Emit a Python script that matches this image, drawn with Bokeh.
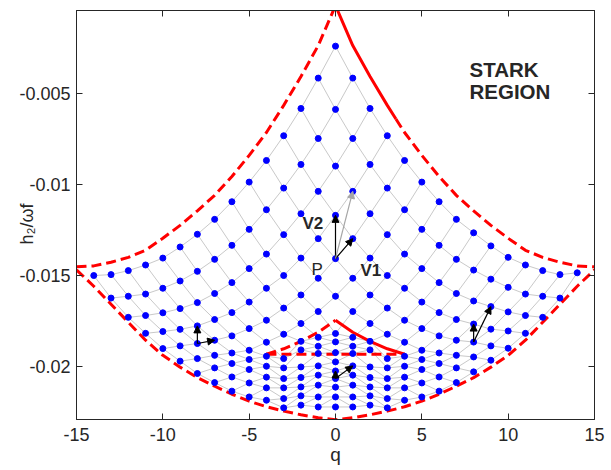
from bokeh.plotting import figure
from bokeh.models import FixedTicker, LinearAxis, Label, Arrow, NormalHead
from bokeh.embed import file_html
from bokeh.resources import INLINE

# ---------------- data ----------------
q_cols = list(range(-14, 15))

h2_m14 = [-0.01500]
h2_m13 = [-0.01495, -0.01624]
h2_m12 = [-0.01473, -0.01614, -0.01730]
h2_m11 = [-0.01442, -0.01602, -0.01720, -0.01818]
h2_m10 = [-0.01404, -0.01570, -0.01705, -0.01808, -0.01902]
h2_m9 = [-0.01343, -0.01530, -0.01682, -0.01796, -0.01887, -0.01971]
h2_m8 = [-0.01273, -0.01477, -0.01649, -0.01777, -0.01874, -0.01957, -0.02039]
h2_m7 = [-0.01191, -0.01411, -0.01599, -0.01742, -0.01856, -0.01939, -0.02008, -0.02089]
h2_m6 = [-0.01094, -0.01334, -0.01539, -0.01704, -0.01832, -0.01926, -0.01984, -0.02058, -0.02136]
h2_m5 = [-0.00986, -0.01246, -0.01462, -0.01646, -0.01792, -0.01911, -0.01962, -0.02017, -0.02091, -0.02168]
h2_m4 = [-0.00867, -0.01138, -0.01382, -0.01570, -0.01746, -0.01867, -0.01944, -0.01999, -0.02059, -0.02118, -0.02186]
h2_m3 = [-0.00731, -0.01019, -0.01275, -0.01500, -0.01679, -0.01823, -0.01957, -0.02008, -0.02067, -0.02118, -0.02177, -0.02228]
h2_m2 = [-0.00581, -0.00889, -0.01160, -0.01404, -0.01607, -0.01764, -0.01862, -0.01909, -0.02003, -0.02061, -0.02113, -0.02162, -0.02213]
h2_m1 = [-0.00414, -0.00746, -0.01037, -0.01297, -0.01515, -0.01698, -0.01840, -0.01889, -0.01929, -0.01997, -0.02048, -0.02103, -0.02168, -0.02223]
h2_0 = [-0.00238, -0.00586, -0.00898, -0.01169, -0.01407, -0.01614, -0.01819, -0.01865, -0.01924, -0.01975, -0.02025, -0.02067, -0.02114, -0.02168, -0.02223]
h2_p1 = [-0.00414, -0.00746, -0.01037, -0.01297, -0.01515, -0.01698, -0.01840, -0.01889, -0.01929, -0.01997, -0.02048, -0.02103, -0.02168, -0.02223]
h2_p2 = [-0.00581, -0.00889, -0.01160, -0.01404, -0.01607, -0.01764, -0.01862, -0.01909, -0.02003, -0.02061, -0.02113, -0.02162, -0.02213]
h2_p3 = [-0.00731, -0.01019, -0.01275, -0.01500, -0.01679, -0.01823, -0.01957, -0.02008, -0.02067, -0.02118, -0.02177, -0.02228]
h2_p4 = [-0.00867, -0.01138, -0.01382, -0.01570, -0.01746, -0.01867, -0.01944, -0.01999, -0.02059, -0.02118, -0.02186]
h2_p5 = [-0.00986, -0.01246, -0.01462, -0.01646, -0.01792, -0.01911, -0.01962, -0.02017, -0.02091, -0.02168]
h2_p6 = [-0.01094, -0.01334, -0.01539, -0.01704, -0.01832, -0.01926, -0.01984, -0.02058, -0.02136]
h2_p7 = [-0.01191, -0.01411, -0.01599, -0.01742, -0.01856, -0.01939, -0.02008, -0.02089]
h2_p8 = [-0.01265, -0.01470, -0.01640, -0.01767, -0.01866, -0.01948, -0.02030]
h2_p9 = [-0.01337, -0.01520, -0.01671, -0.01795, -0.01887, -0.01966]
h2_p10 = [-0.01400, -0.01565, -0.01700, -0.01805, -0.01900]
h2_p11 = [-0.01442, -0.01602, -0.01720, -0.01818]
h2_p12 = [-0.01473, -0.01614, -0.01730]
h2_p13 = [-0.01495, -0.01624]
h2_p14 = [-0.01485]

h2_cols = [h2_m14, h2_m13, h2_m12, h2_m11, h2_m10, h2_m9, h2_m8, h2_m7, h2_m6,
           h2_m5, h2_m4, h2_m3, h2_m2, h2_m1, h2_0, h2_p1, h2_p2, h2_p3, h2_p4,
           h2_p5, h2_p6, h2_p7, h2_p8, h2_p9, h2_p10, h2_p11, h2_p12, h2_p13, h2_p14]

# outer boundary (upper branch, left part dashed)
up_left_q = [-15, -14, -13, -12, -11, -10, -9, -8, -7, -6, -5, -4, -3, -2, -1, -0.5, 0]
up_left_h = [-0.01452, -0.01447, -0.01427, -0.01400, -0.01361, -0.01295, -0.01224, -0.01144,
             -0.01059, -0.00955, -0.00839, -0.00713, -0.00564, -0.00405, -0.00235, -0.00125, -0.00015]
# upper branch, right part: solid near the top, then dashed
up_right_solid_q = [0, 0.5, 1, 2, 3, 3.5]
up_right_solid_h = [-0.00015, -0.00125, -0.00235, -0.00405, -0.00564, -0.00639]
up_right_dash_q = [3.5, 4, 5, 6, 7, 8, 9, 10, 11, 12, 13, 14, 15]
up_right_dash_h = [-0.00639, -0.00713, -0.00839, -0.00955, -0.01059, -0.01144, -0.01224, -0.01295,
                   -0.01361, -0.01400, -0.01427, -0.01447, -0.01452]
# lower branch of the outer boundary
low_q = [-15, -14, -13, -12, -11, -10, -9, -8, -7, -6, -5, -4, -3, -2, -1, 0,
         1, 2, 3, 4, 5, 6, 7, 8, 9, 10, 11, 12, 13, 14, 15]
low_h = [-0.01469, -0.01559, -0.01658, -0.01757, -0.01856, -0.01939, -0.02004, -0.02062,
         -0.02109, -0.02153, -0.02191, -0.02222, -0.02246, -0.02266, -0.02282, -0.02293,
         -0.02282, -0.02266, -0.02246, -0.02222, -0.02191, -0.02153, -0.02109, -0.02062,
         -0.02004, -0.01939, -0.01856, -0.01757, -0.01658, -0.01559, -0.01469]
# inner critical curves
in_left_q = [-4, -3, -2, -1, 0]
in_left_h = [-0.01933, -0.01903, -0.01862, -0.01812, -0.01746]
in_right_q = [0, 1, 2, 3, 4]
in_right_h = [-0.01746, -0.01812, -0.01862, -0.01903, -0.01933]
in_flat_q = [-4, 4]
in_flat_h = [-0.01933, -0.01933]

# arrows: (q_from, index_from, q_to, index_to, colour)
arrows = [(0, 4, 0, 3, "black"), (0, 4, 1, 3, "black"), (0, 4, 1, 2, "#a6a6a6"),
          (-8, 4, -8, 3, "black"), (-8, 4, -7, 4, "black"),
          (0, 11, 0, 10, "black"), (0, 11, 1, 9, "black"),
          (8, 4, 8, 3, "black"), (8, 4, 9, 2, "black")]

xticks = [-15, -10, -5, 0, 5, 10, 15]
yticks = [-0.02, -0.015, -0.01, -0.005]
ytick_labels = {-0.02: "-0.02", -0.015: "-0.015", -0.01: "-0.01", -0.005: "-0.005"}

# ---------------- figure ----------------
Y0, Y1 = -0.02292, -0.00042
W, H = 611, 470
FL, FR, FT, FB = 76, 17, 10, 51
p = figure(width=W, height=H, x_range=(-15, 15), y_range=(Y0, Y1),
           output_backend="svg", toolbar_location=None,
           min_border_left=FL, min_border_right=FR, min_border_top=FT, min_border_bottom=FB,
           background_fill_color="white", border_fill_color="white")
p.grid.visible = False
p.outline_line_color = "#262626"
dark = "#262626"
font = "Liberation Sans"

for ax in (p.xaxis[0], p.yaxis[0]):
    ax.major_tick_in = 6
    ax.major_tick_out = 0
    ax.minor_tick_line_color = None
    ax.axis_line_color = dark
    ax.major_tick_line_color = dark
    ax.major_label_text_color = dark
    ax.major_label_text_font = font
    ax.major_label_text_font_size = "18px"
    ax.axis_label_text_font = font
    ax.axis_label_text_font_style = "normal"
    ax.axis_label_text_color = dark
    ax.axis_label_standoff = 0
p.xaxis.ticker = FixedTicker(ticks=xticks)
p.xaxis.major_label_overrides = {t: str(t) for t in xticks}
p.xaxis.major_label_standoff = 8
p.xaxis.axis_label = "q"
p.xaxis.axis_label_text_font_size = "19px"
p.yaxis.ticker = FixedTicker(ticks=yticks)
p.yaxis.major_label_overrides = ytick_labels
p.yaxis.major_label_standoff = 6
p.yaxis.axis_label = "h\u2082/\u03c9f\u2002\u2002"
p.yaxis.axis_label_text_font_size = "18px"
p.yaxis.axis_label_standoff = -21

for loc, ticks in (("right", yticks), ("above", xticks)):
    ax = LinearAxis(ticker=FixedTicker(ticks=ticks), major_label_text_font_size="0px",
                    major_label_overrides={t: "" for t in ticks}, major_label_standoff=0,
                    major_tick_in=6, major_tick_out=0, minor_tick_line_color=None,
                    axis_line_color=dark, major_tick_line_color=dark)
    p.add_layout(ax, loc)

# mesh
x0, y0, x1, y1 = [], [], [], []
for i in range(len(q_cols) - 1):
    A, B = h2_cols[i], h2_cols[i + 1]
    for k, ha in enumerate(A):
        nb = [k, k + 1] if len(B) > len(A) else [k - 1, k]
        for j in nb:
            if 0 <= j < len(B):
                x0.append(q_cols[i]); y0.append(ha)
                x1.append(q_cols[i + 1]); y1.append(B[j])
p.segment(x0, y0, x1, y1, line_color="#c9c9c9", line_width=1)

red = "#ff0000"
dash = "10 5"
p.line(up_left_q, up_left_h, line_color=red, line_width=3, line_dash=dash)
p.line(up_right_solid_q, up_right_solid_h, line_color=red, line_width=3)
p.line(up_right_dash_q, up_right_dash_h, line_color=red, line_width=3, line_dash=dash)
p.line(low_q, low_h, line_color=red, line_width=3, line_dash=dash)
p.line(in_left_q, in_left_h, line_color=red, line_width=3, line_dash=dash)
p.line(in_right_q, in_right_h, line_color=red, line_width=3)
p.line(in_flat_q, in_flat_h, line_color=red, line_width=3, line_dash=dash)

px, py = [], []
for q, col in zip(q_cols, h2_cols):
    for h in col:
        px.append(q); py.append(h)
p.scatter(px, py, size=6, color="#0000ff")

col_of = dict(zip(q_cols, h2_cols))
for qa, ka, qb, kb, c in arrows:
    p.add_layout(Arrow(end=NormalHead(size=7, fill_color=c, line_color=c, line_width=1),
                       x_start=qa, y_start=col_of[qa][ka], x_end=qb, y_end=col_of[qb][kb],
                       line_color=c, line_width=1.2))

# ---------------- texts inside the frame ----------------
fw = (W - FL - FR)          # frame width in px
fh = (H - FT - FB)          # frame height in px
dq = 30 / fw                # data per px (x)
dh = (Y1 - Y0) / fh         # data per px (y)

def to_q(xpix):
    return -15 + (xpix - FL) * dq

def to_h(ypix):
    return Y1 - (ypix - FT) * dh

def lab(txt, xpix, ypix, size, bold=False, align="left", color=dark):
    p.add_layout(Label(x=to_q(xpix), y=to_h(ypix), text=txt, text_font=font,
                       text_font_size=f"{size}px", text_font_style="bold" if bold else "normal",
                       text_color=color, text_align=align, text_baseline="alphabetic"))

lab("STARK", 469, 69, 20.5, bold=True)
lab("REGION", 469, 91, 20.5, bold=True)
lab("V2", 302, 223, 17, bold=True)
lab("V1", 360, 270, 17, bold=True)
lab("P", 311, 269, 17)

open("out.html", "w").write(file_html(p, INLINE))
